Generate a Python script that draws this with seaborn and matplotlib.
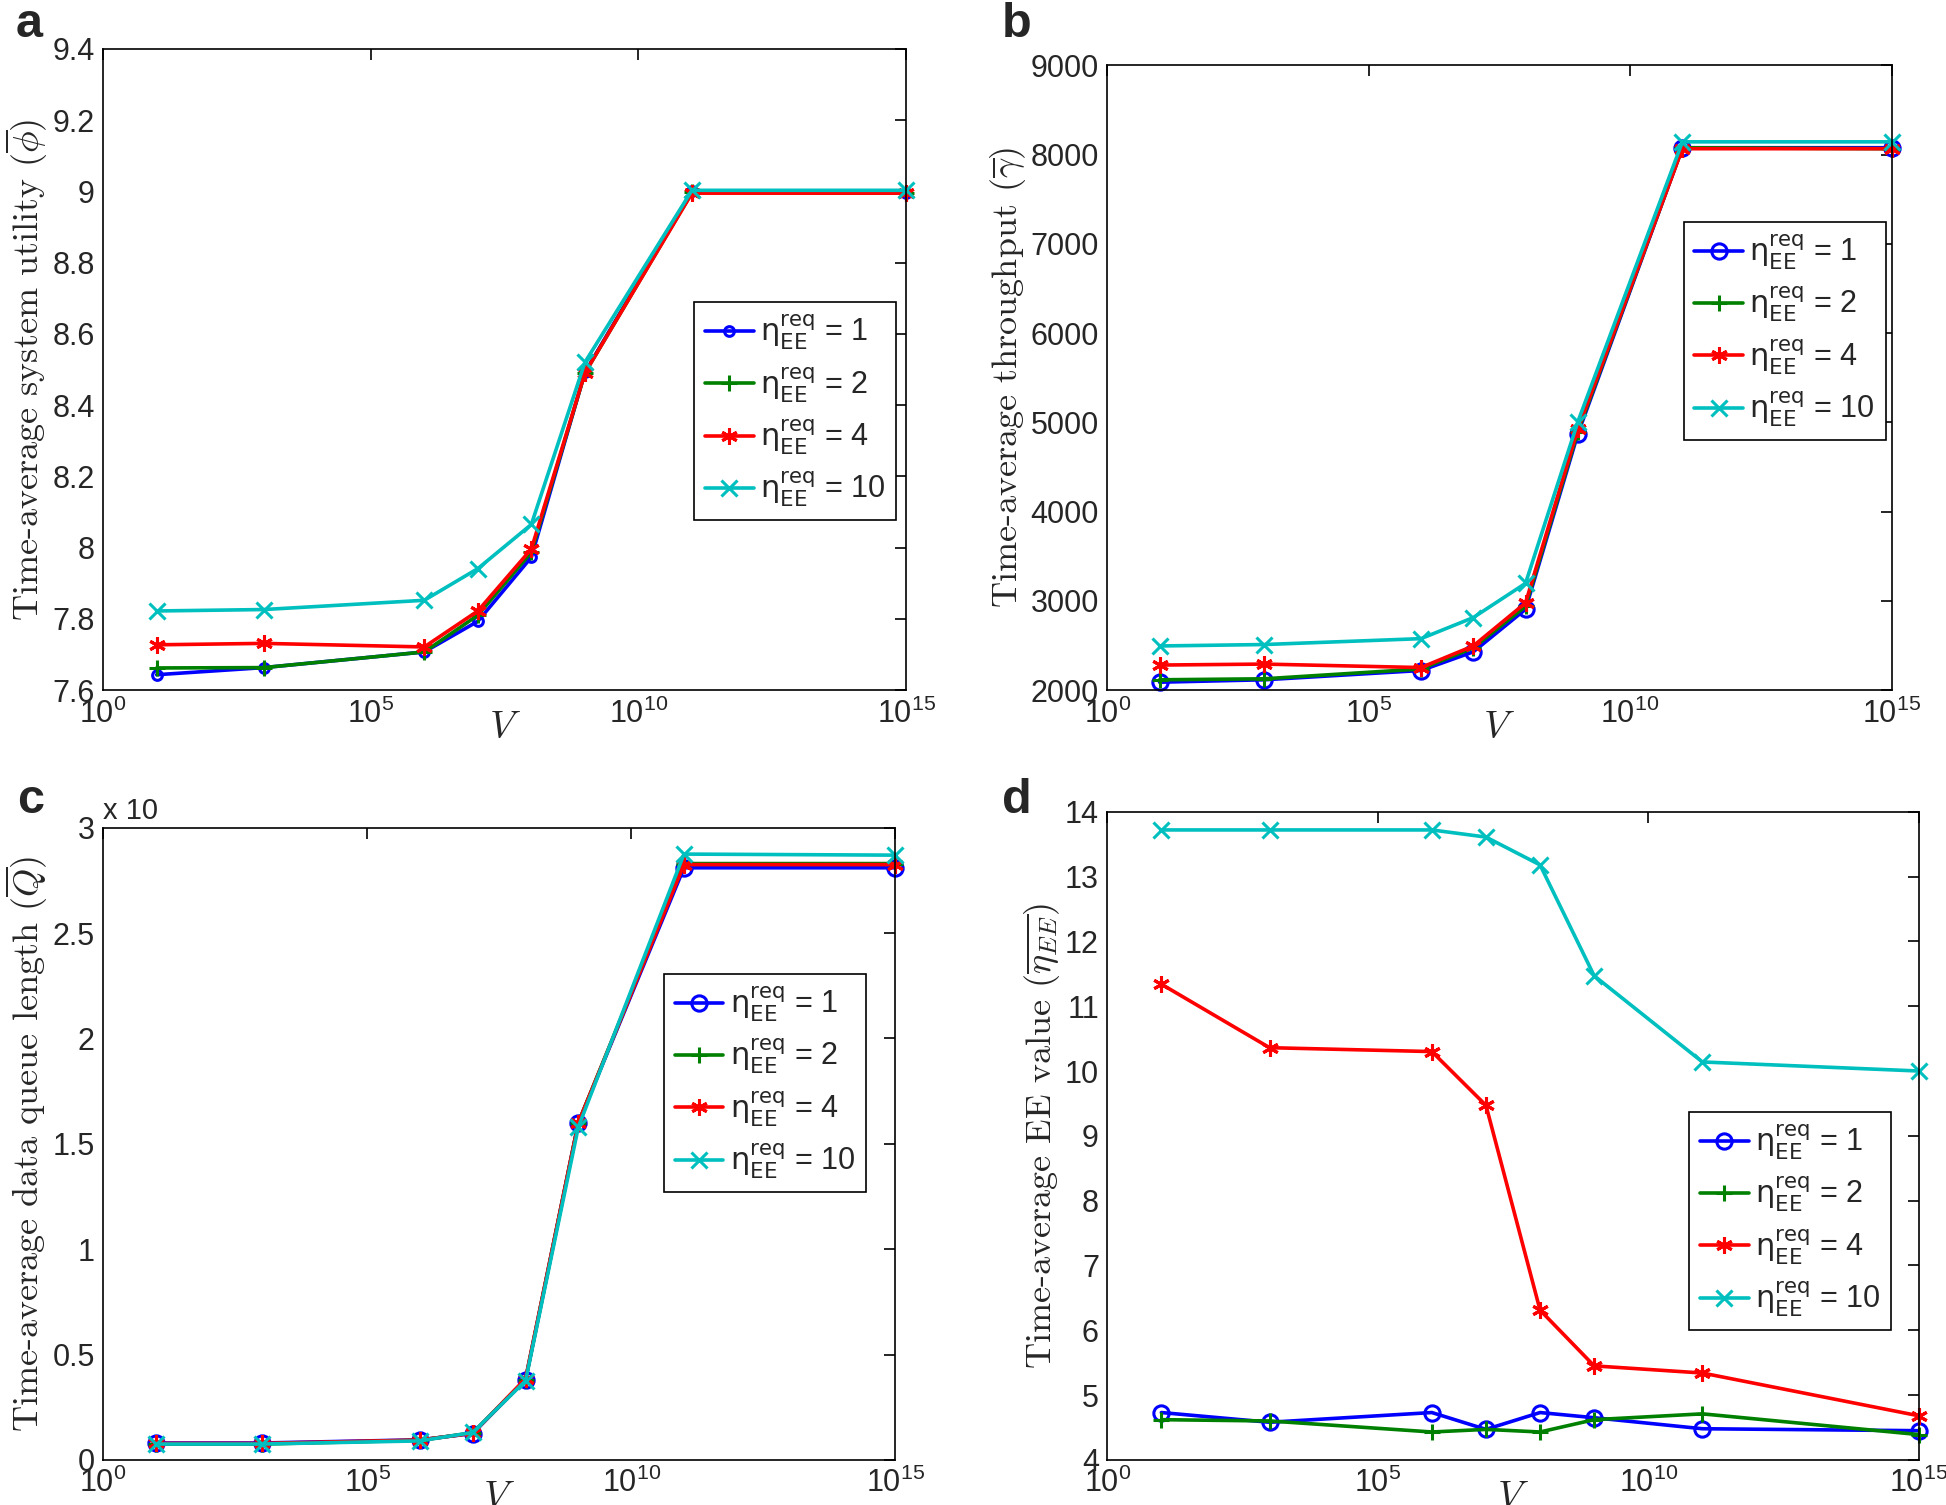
import matplotlib
matplotlib.use("Agg")
import matplotlib.pyplot as plt
import pandas as pd
import seaborn as sns
from matplotlib.ticker import FixedLocator, FormatStrFormatter, NullLocator

# x values (V) shared by all panels
v_values = [1e1, 1e3, 1e6, 1e7, 1e8, 1e9, 1e11, 1e15]
eta_req = [1, 2, 4, 10]

# a: time-average system utility
utility = {
    1: [7.643, 7.663, 7.707, 7.793, 7.973, 8.492, 9.0, 8.995],
    2: [7.662, 7.663, 7.707, 7.81, 7.987, 8.49, 8.997, 8.995],
    4: [7.727, 7.731, 7.721, 7.822, 7.996, 8.49, 8.995, 8.995],
    10: [7.822, 7.826, 7.852, 7.941, 8.065, 8.52, 9.003, 9.003],
}
# b: time-average throughput
throughput = {
    1: [2088, 2115, 2219, 2428, 2905, 4869, 8078, 8078],
    2: [2115, 2126, 2236, 2472, 2938, 4896, 8078, 8067],
    4: [2280, 2291, 2252, 2494, 2976, 4924, 8067, 8067],
    10: [2494, 2510, 2576, 2812, 3196, 5006, 8144, 8144],
}
# c: time-average data queue length (x 10^k)
queue = {
    1: [0.08, 0.08, 0.095, 0.125, 0.38, 1.60, 2.81, 2.81],
    2: [0.075, 0.075, 0.093, 0.128, 0.38, 1.60, 2.83, 2.83],
    4: [0.078, 0.078, 0.094, 0.126, 0.385, 1.60, 2.825, 2.825],
    10: [0.075, 0.075, 0.09, 0.13, 0.375, 1.58, 2.875, 2.87],
}
# d: time-average EE value
ee_value = {
    1: [4.73, 4.58, 4.73, 4.47, 4.73, 4.65, 4.48, 4.45],
    2: [4.62, 4.60, 4.43, 4.47, 4.43, 4.62, 4.71, 4.39],
    4: [11.34, 10.36, 10.30, 9.47, 6.31, 5.45, 5.34, 4.68],
    10: [13.72, 13.72, 13.72, 13.61, 13.18, 11.47, 10.14, 10.0],
}

colors = {1: "#0000ff", 2: "#008000", 4: "#ff0000", 10: "#00bfbf"}
markers = {1: "o", 2: "+", 4: (6, 2, 0), 10: "x"}

sns.set_theme(style="white")
plt.rcParams["font.family"] = ["Liberation Sans", "DejaVu Sans"]
plt.rcParams["xtick.direction"] = "in"
plt.rcParams["ytick.direction"] = "in"

fig = plt.figure(figsize=(19.46, 15.05), dpi=100)

panels = [
    # letter, data, axes rect, ylabel, yticks, ylim, legend (x0, ytop), circle size, letter pos
    ("a", utility, [0.053, 0.5415, 0.4126, 0.426],
     r"Time-average system utility ($\overline{\phi}$)",
     [7.6 + 0.2 * i for i in range(10)], (7.6, 9.4), (0.736, 0.605), 7,
     (16, 37)),
    ("b", throughput, [0.569, 0.5415, 0.403, 0.415],
     r"Time-average throughput ($\overline{\gamma}$)",
     list(range(2000, 9001, 1000)), (2000, 9000), (0.735, 0.75), 11,
     (1002, 37)),
    ("c", queue, [0.053, 0.030, 0.407, 0.42],
     r"Time-average data queue length ($\overline{Q}$)",
     [0.5 * i for i in range(7)], (0, 3), (0.708, 0.769), 11,
     (17, 813)),
    ("d", ee_value, [0.569, 0.030, 0.417, 0.4306],
     r"Time-average EE value ($\overline{\eta_{EE}}$)",
     list(range(4, 15)), (4, 14), (0.717, 0.537), 11,
     (1002, 813)),
]

W, H = 1946, 1505

for letter, data, rect, ylabel, yticks, ylim, leg_pos, circ, lpos in panels:
    ax = fig.add_axes(rect)
    ax.set_xscale("log")
    for eta in eta_req:
        df = pd.DataFrame({"V": v_values, "val": data[eta]})
        ms = circ if eta == 1 else 12
        sns.lineplot(
            data=df, x="V", y="val", ax=ax, color=colors[eta],
            marker=markers[eta], markersize=ms, markeredgewidth=2.2,
            markerfacecolor="none", markeredgecolor=colors[eta],
            linewidth=2.6, errorbar=None, clip_on=False,
            label=r"$\mathrm{\eta}_{\mathrm{EE}}^{\mathrm{req}}$ = %d" % eta,
        )
    ax.set_xlim(1, 1e15)
    ax.set_ylim(*ylim)
    ax.xaxis.set_major_locator(FixedLocator([1, 1e5, 1e10, 1e15]))
    ax.xaxis.set_minor_locator(NullLocator())
    ax.yaxis.set_major_locator(FixedLocator(yticks))
    ax.yaxis.set_major_formatter(FormatStrFormatter("%g"))
    ax.tick_params(axis="both", which="major", labelsize=22, length=8,
                   width=1.2, top=True, right=True, color="black", pad=6)
    for sp in ax.spines.values():
        sp.set_color("black")
        sp.set_linewidth(1.2)
    ax.set_xlabel(r"$V$", fontsize=28, math_fontfamily="cm", labelpad=-14)
    ax.set_ylabel(ylabel, fontsize=26, family="cmr10", math_fontfamily="cm",
                  labelpad=2)

    leg = ax.legend(loc="upper left", bbox_to_anchor=leg_pos, borderaxespad=0,
                    fancybox=False, edgecolor="black", framealpha=1,
                    handlelength=1.6, handletextpad=0.2, labelspacing=0.42,
                    borderpad=0.35,
                    prop={"size": 22, "math_fontfamily": "dejavusans"})
    leg.get_frame().set_linewidth(1.2)

    fig.text(lpos[0] / W, 1 - lpos[1] / H, letter, fontsize=35,
             fontweight="bold", ha="left", va="baseline")
    if letter == "c":
        ax.text(0.0, 1.005, "x 10", transform=ax.transAxes, fontsize=21,
                ha="left", va="bottom")

fig.savefig("out.png", dpi=100)
